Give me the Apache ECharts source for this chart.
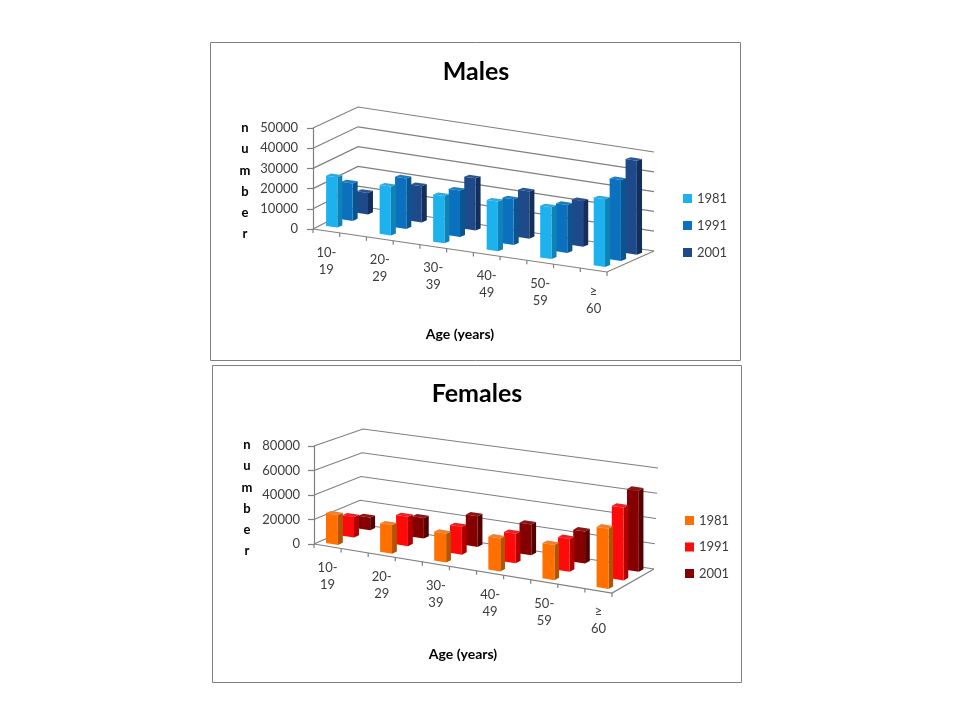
<!DOCTYPE html>
<html><head><meta charset="utf-8">
<style>html,body{margin:0;padding:0;background:#fff}#c{width:960px;height:720px}</style>
<script src="https://cdn.jsdelivr.net/npm/echarts@6/dist/echarts.min.js"></script>
</head><body><div id="c"></div>
<script>
const categories = ['10-\n19','20-\n29','30-\n39','40-\n49','50-\n59','≥\n60'];
const years = ['1981','1991','2001'];
const males1981 = [25000,24300,23500,24700,25800,33700];
const males1991 = [18800,25300,23200,22800,24000,40500];
const males2001 = [10800,18300,26300,23800,23000,47400];
const females1981 = [24500,23400,23600,26800,28700,49000];
const females1991 = [17000,24200,22800,24000,26600,58500];
const females2001 = [10600,17000,25200,25000,25800,64600];
const maleTicks = [0,10000,20000,30000,40000,50000];
const femaleTicks = [0,20000,40000,60000,80000];
const maleColors = [['#1DB2EE','#0E84B6','#2FA8DC'],['#0B70BE','#0A5590','#1B7CC0'],['#1F4A8A','#132F5C','#2A5590']];
const femaleColors = [['#FF7000','#B45400','#F08030'],['#FF0A0A','#B00000','#F02020'],['#850000','#540000','#8E1515']];

const XMIN = -0.25, XMAX = 5.25, GREY = '#7f7f7f', INK = '#3c3c3c';
const FONT = 'Lato';

function projector(api, v3d){
  const o = api.coord([XMIN, 0]), e = api.coord([XMAX, 0]), t = api.coord([XMIN, v3d.max]);
  return function(x, v, d){
    const p = api.coord([x, v]);
    const u = (p[0]-o[0])/(e[0]-o[0]), h = (o[1]-p[1])/(o[1]-t[1]);
    const dx = v3d.dxL + (v3d.dxR-v3d.dxL)*u + v3d.kx*h;
    const dy = v3d.dyL + (v3d.dyR-v3d.dyL)*u + (v3d.kyL + (v3d.kyR-v3d.kyL)*u)*h;
    return [p[0] + dx*d, p[1] + (p[0]-o[0])*v3d.shear + dy*d];
  };
}
function line(points, width){
  return {type:'polyline', shape:{points}, style:{stroke:GREY, fill:null, lineWidth:width||1.2}, silent:true};
}
function wallSeries(gridIndex, ticks, v3d){
  return {type:'custom', xAxisIndex:gridIndex, yAxisIndex:gridIndex, z:1, clip:false, silent:true,
    encode:{x:0,y:1}, data:ticks.map(t=>[XMIN,t]),
    renderItem(params, api){
      const P = projector(api, v3d), v = api.value(1);
      const kids = [line([P(XMIN,v,0),P(XMIN,v,1),P(XMAX,v,1)])];
      if (v === 0) kids.push(line([P(XMIN,0,0),P(XMAX,0,0),P(XMAX,0,1)]));
      return {type:'group', children:kids};
    }};
}
function floorSeries(gridIndex, v3d, labelGap){
  return {type:'custom', xAxisIndex:gridIndex, yAxisIndex:gridIndex, z:2, clip:false, silent:true,
    encode:{x:0,y:1}, data:categories.map((c,i)=>[i,0]),
    renderItem(params, api){
      const P = projector(api, v3d), i = api.value(0), kids = [];
      [i-0.25, i+0.25].forEach(x=>{
        const a = P(x,0,0);
        kids.push(line([a,[a[0],a[1]+4]]));
      });
      const c = P(i,0,0);
      kids.push({type:'text', x:c[0], y:c[1]+labelGap, style:{text:categories[i], fill:INK,
        font:'13px '+FONT, align:'center', verticalAlign:'middle', lineHeight:17}});
      return {type:'group', children:kids};
    }};
}
function barSeries(gridIndex, name, values, row, colors, v3d){
  const bv = Object.assign({}, v3d, {kx:0, dyL:v3d.dyL*v3d.barDy, dyR:v3d.dyR*v3d.barDy});
  return {type:'custom', name, xAxisIndex:gridIndex, yAxisIndex:gridIndex, z:10-row, clip:false, silent:true,
    itemStyle:{color:colors[0]}, encode:{x:0,y:1}, data:values.map((v,i)=>[i,v]),
    renderItem(params, api){
      const P = projector(api, bv), i = api.value(0), v = api.value(1);
      const w = bv.bar, x0 = i+bv.shift-w/2, x1 = i+bv.shift+w/2, d0 = bv.d0+row*bv.step, d1 = d0+bv.bd;
      const poly = (pts,fill)=>({type:'polygon', shape:{points:pts}, style:{fill}, silent:true});
      return {type:'group', children:[
        poly([P(x1,0,d0),P(x1,0,d1),P(x1,v,d1),P(x1,v,d0)], colors[1]),
        poly([P(x0,v,d0),P(x1,v,d0),P(x1,v,d1),P(x0,v,d1)], colors[2]),
        poly([P(x0,0,d0),P(x1,0,d0),P(x1,v,d0),P(x0,v,d0)], colors[0])
      ]};
    }};
}
function axes(g){
  return {
    x:{gridIndex:g.i, type:'value', min:XMIN, max:XMAX, axisLine:{show:false}, axisTick:{show:false},
       axisLabel:{show:false}, splitLine:{show:false}, name:'Age (years)', nameLocation:'middle', nameGap:g.xGap,
       nameMoveOverlap:false, nameTextStyle:{fontFamily:FONT, fontWeight:'bold', fontSize:14, color:'#000'}},
    y:{gridIndex:g.i, type:'value', min:0, max:g.max, interval:g.step,
       axisLine:{show:true, onZero:false, lineStyle:{color:GREY, width:1.2}}, axisTick:{show:true, length:6, lineStyle:{color:GREY, width:1.2}},
       axisLabel:{margin:g.labelMargin, color:INK, fontFamily:FONT, fontSize:13, formatter:v=>String(v)}, splitLine:{show:false}}
  };
}
const mV = {max:50000, shear:43/294, dxL:45, dxR:47, kx:0, dyL:-23, dyR:-21, kyL:2, kyR:2, barDy:0.85, bar:0.21, shift:-0.06, d0:0.19, step:0.34, bd:0.11};
const fV = {max:80000, shear:49/298, dxL:45, dxR:42, kx:4, dyL:-20, dyR:-24, kyL:3, kyR:-3, barDy:1, bar:0.22, shift:-0.01, d0:0.11, step:0.36, bd:0.11};
const a0 = axes({i:0,max:50000,step:10000,xGap:98,labelMargin:15});
const a1 = axes({i:1,max:80000,step:20000,xGap:103,labelMargin:14});
const frame = (x,y,w,h)=>({type:'rect', shape:{x,y,width:w,height:h}, style:{fill:'none', stroke:GREY, lineWidth:1}, silent:true, z:0});
const legendBase = {orient:'vertical', icon:'rect', itemWidth:9, itemHeight:9, selectedMode:false, padding:0,
  textStyle:{fontFamily:FONT, fontSize:13, color:INK}};
const yName = (left,top)=>({text:'n\nu\nm\nb\ne\nr', left, top, padding:0, textAlign:'center',
  textStyle:{fontFamily:FONT, fontWeight:'bold', fontSize:13, color:'#000', lineHeight:21.2}});

const option = {
  animation:false, backgroundColor:'#fff',
  graphic:[frame(210.5,42.5,530,318), frame(212.5,365.5,529,317)],
  title:[
    {text:'Males', left:471, top:54, textAlign:'center', textStyle:{fontFamily:FONT, fontWeight:'bold', fontSize:25, color:'#000'}},
    {text:'Females', left:472, top:376, textAlign:'center', textStyle:{fontFamily:FONT, fontWeight:'bold', fontSize:25, color:'#000'}},
    yName(245,117.5), yName(247,434.5)
  ],
  grid:[
    {left:313, top:128, width:294, height:101, containLabel:false},
    {left:314, top:446, width:298, height:98, containLabel:false}
  ],
  xAxis:[a0.x,a1.x], yAxis:[a0.y,a1.y],
  legend:[
    Object.assign({left:683, top:192, itemGap:14, data:years.slice()}, legendBase),
    Object.assign({left:685, top:514, itemGap:13.5, data:years.map(y=>y+' ')}, legendBase)
  ],
  series:[
    wallSeries(0,maleTicks,mV), floorSeries(0,mV,30),
    barSeries(0,'1981',males1981,0,maleColors[0],mV),
    barSeries(0,'1991',males1991,1,maleColors[1],mV),
    barSeries(0,'2001',males2001,2,maleColors[2],mV),
    wallSeries(1,femaleTicks,fV), floorSeries(1,fV,30),
    barSeries(1,'1981 ',females1981,0,femaleColors[0],fV),
    barSeries(1,'1991 ',females1991,1,femaleColors[1],fV),
    barSeries(1,'2001 ',females2001,2,femaleColors[2],fV)
  ]
};
const chart = echarts.init(document.getElementById('c'), null, {renderer:'canvas'});
chart.setOption(option);
</script></body></html>
